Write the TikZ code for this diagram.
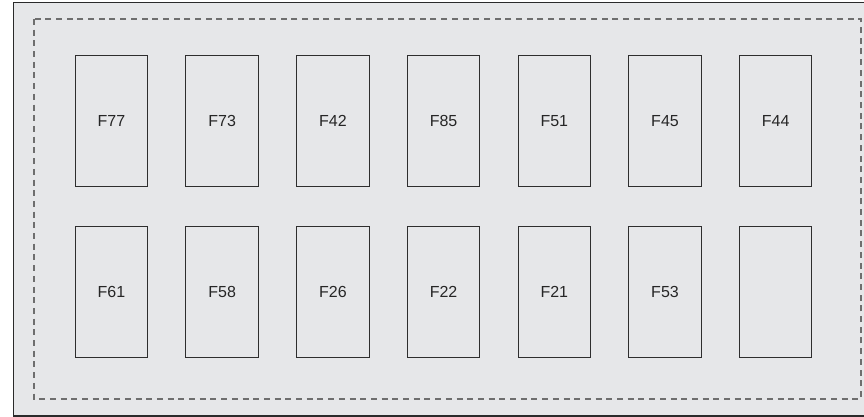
\documentclass[tikz,border=0pt]{standalone}
\usepackage{fontspec}
\setmainfont{Liberation Sans}
\definecolor{panel}{HTML}{E6E7E9}
\definecolor{framec}{HTML}{2A2A2A}
\definecolor{dashc}{HTML}{6E6E6E}
\definecolor{boxc}{HTML}{2E2E2E}
\begin{document}
\begin{tikzpicture}[x=1pt,y=-1pt,
  fusebox/.style={draw=boxc,line width=1pt,fill=panel,minimum width=72.5pt,minimum height=131.5pt,inner sep=0pt,font=\fontsize{16}{19}\selectfont,text=black!85},
  frameline/.style={draw=framec,line width=1.3pt},
  dashline/.style={draw=dashc,line width=1.4pt,dash pattern=on 6pt off 4.7pt}]
\useasboundingbox (0,0) rectangle (864,417);
\fill[white] (0,0) rectangle (864,417);
\fill[panel] (13.5,2.5) rectangle (864,416);
\draw[frameline] (864,2.5) -- (13.5,2.5) -- (13.5,416) -- (864,416);
\draw[dashline] (34,19) rectangle (861,399);
\foreach \lab [count=\i from 0] in {F77,F73,F42,F85,F51,F45,F44}{
  \node[fusebox] (top\i) at ({111.5+110.7*\i},121.2) {\lab};
}
\foreach \lab [count=\i from 0] in {F61,F58,F26,F22,F21,F53,{}}{
  \node[fusebox] (bot\i) at ({111.5+110.7*\i},292) {\lab};
}
\end{tikzpicture}
\end{document}
